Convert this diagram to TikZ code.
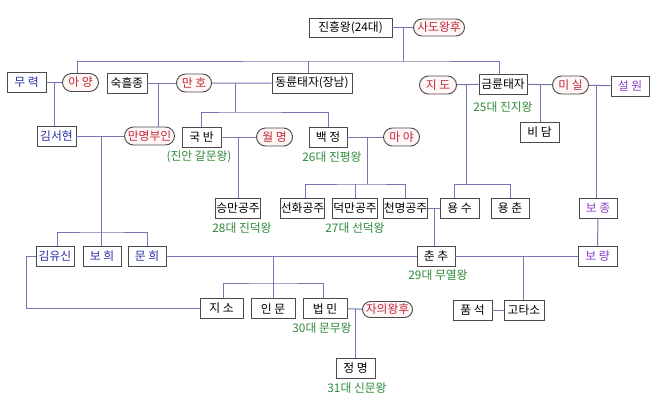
\documentclass[tikz,border=0pt]{standalone}
\usepackage{fontspec}
\setmainfont{Noto Sans CJK KR}
\usetikzlibrary{shapes.misc}
\definecolor{bdc}{HTML}{4A4A4A}
\definecolor{lnc}{HTML}{7676B2}
\definecolor{bluc}{HTML}{2B2FA8}
\definecolor{purc}{HTML}{8B3FC8}
\definecolor{redc}{HTML}{C0283C}
\definecolor{grc}{HTML}{2F8A3A}
\definecolor{pkf}{HTML}{FFF6F6}
\begin{document}
\begin{tikzpicture}[x=1pt,y=-1pt,font=\fontsize{11.8}{13}\selectfont,
  bx/.style={draw=bdc,fill=white,line width=0.9pt,minimum height=20pt,inner sep=0.5pt},
  rd/.style={rounded rectangle,draw=bdc,fill=pkf,line width=0.9pt,minimum height=18pt,inner sep=0.5pt,text=redc},
  ln/.style={draw=lnc,line width=1pt},
  gl/.style={text=grc,inner sep=0pt}]
\fill[white] (0,0) rectangle (656,410);
\useasboundingbox (0,0) rectangle (656,410);
% row 1
\node[bx,minimum width=83pt,minimum height=19pt] (jh) at (350.5,27.5) {진흥왕(24대)};
\node[rd,minimum width=52pt,minimum height=17pt] (sd) at (439,27.5) {사도왕후};
% row 2
\node[bx,minimum width=39pt,text=bluc] (mr) at (26.5,82.5) {무 력};
\node[rd,minimum width=37pt] (ay) at (80.5,82.5) {아 양};
\node[bx,minimum width=40pt] (sh) at (127,83) {숙흘종};
\node[rd,minimum width=36pt] (mh) at (194,83) {만 호};
\node[bx,minimum width=80pt] (dr) at (312,83) {동륜태자(장남)};
\node[rd,minimum width=38pt] (jd) at (438,85) {지 도};
\node[bx,minimum width=48pt] (gr) at (503,84) {금륜태자};
\node[rd,minimum width=37pt] (ms) at (570.5,85) {미 실};
\node[bx,minimum width=38pt,text=purc] (sw) at (630,86) {설 원};
% row 3
\node[bx,minimum width=39pt] (bd) at (539.5,132) {비 담};
\node[bx,minimum width=39pt,text=bluc] (ksh) at (56.5,136) {김서현};
\node[rd,minimum width=51pt] (mm) at (149.5,136) {만명부인};
\node[bx,minimum width=39pt] (gb) at (201.5,137) {국 반};
\node[rd,minimum width=37pt] (wm) at (274.5,137) {월 명};
\node[bx,minimum width=38pt] (bj) at (328,137) {백 정};
\node[rd,minimum width=37pt] (my) at (401.5,137) {마 야};
% row 4
\node[bx,minimum width=42pt] (sm) at (238,208) {승만공주};
\node[bx,minimum width=43pt] (sh2) at (302.5,208) {선화공주};
\node[bx,minimum width=44pt] (dm) at (355,208) {덕만공주};
\node[bx,minimum width=43pt] (cm) at (405.5,208) {천명공주};
\node[bx,minimum width=39pt] (ys) at (459.5,208) {용 수};
\node[bx,minimum width=38pt] (yc) at (510,208) {용 춘};
\node[bx,minimum width=38pt,text=purc] (bjo) at (598,208) {보 종};
% row 5
\node[bx,minimum width=38pt,text=bluc] (kys) at (55,256) {김유신};
\node[bx,minimum width=38pt,text=bluc] (bh) at (102,256) {보 희};
\node[bx,minimum width=38pt,text=bluc] (mhe) at (147,256) {문 희};
\node[bx,minimum width=38pt] (cc) at (436,256) {춘 추};
\node[bx,minimum width=39pt,text=purc] (br) at (597.5,256) {보 량};
% row 6
\node[bx,minimum width=43pt] (js) at (221.5,308.5) {지 소};
\node[bx,minimum width=44pt] (im) at (273,308.5) {인 문};
\node[bx,minimum width=44pt] (bm) at (325,308.5) {법 민};
\node[rd,minimum width=51pt,minimum height=16pt] (jw) at (387.5,309.5) {자의왕후};
\node[bx,minimum width=39pt] (ps) at (472.5,310) {품 석};
\node[bx,minimum width=40pt] (gts) at (524,310) {고타소};
\node[bx,minimum width=39pt] (jm) at (355.5,368) {정 명};
% green labels
\node[gl] at (503,107) {25대 진지왕};
\node[gl] at (199,157) {(진안 갈문왕)};
\node[gl] at (332,157) {26대 진평왕};
\node[gl] at (242,228) {28대 진덕왕};
\node[gl] at (355,228) {27대 선덕왕};
\node[gl] at (438,275) {29대 무열왕};
\node[gl] at (322,328) {30대 문무왕};
\node[gl] at (357,388) {31대 신문왕};
% connectors
\draw[ln] (jh) -- (sd);
\path (jh.east) -- (sd.west) coordinate[pos=0.55] (c1);
\draw[ln] (c1) -- ++(0,33.5) coordinate (b1);
\draw[ln] ([xshift=-3.5pt]ay.north) |- (b1) -| ([xshift=-4pt]gr.north);
\draw[ln] ([xshift=-4pt]dr.north) -- ([xshift=-4pt]dr.north |- b1);
\draw[ln] (mr) -- (ay);
\path (mr.east) -- (ay.west) coordinate[pos=0.5] (c2);
\draw[ln] (c2) -- (c2 |- ksh.north);
\draw[ln] (sh) -- (mh);
\path (sh.east) -- (mh.west) coordinate[pos=0.4] (c3);
\draw[ln] (c3) -- (c3 |- mm.north);
\draw[ln] (mh) -- (dr);
\path (mh.east) -- (dr.west) coordinate[pos=0.4] (c4);
\draw[ln] (c4) -- ++(0,29) coordinate (b4);
\draw[ln] (gb.north) |- (b4) -| (bj.north);
\draw[ln] (jd) -- (gr);
\path (jd.east) -- (gr.west) coordinate[pos=0.45] (c5);
\draw[ln] (c5) -- ++(0,100) coordinate (b5);
\draw[ln] ([xshift=-5.5pt]ys.north) |- (b5) -| (yc.north);
\draw[ln] (gr) -- (ms);
\path (gr.east) -- (ms.west) coordinate[pos=0.52] (c6);
\draw[ln] (c6) -- (c6 |- bd.north);
\draw[ln] (ms) -- (sw);
\path (ms.east) -- (sw.west) coordinate[pos=0.36] (c7);
\draw[ln] (c7) -- (c7 |- bjo.north);
\draw[ln] (bjo) -- (br);
\draw[ln] (ksh) -- (mm);
\path (ksh.east) -- (mm.west) coordinate[pos=0.52] (c8);
\draw[ln] (c8) -- (c8 |- bh.north);
\path (c8) ++(0,96) coordinate (b8);
\draw[ln] ([xshift=2pt]kys.north) |- (b8) -| (mhe.north);
\draw[ln] (gb) -- (wm);
\path (gb.east) -- (wm.west) coordinate[pos=0.49] (c9);
\draw[ln] (c9) -- (c9 |- sm.north);
\draw[ln] (bj) -- (my);
\path (bj.east) -- (my.west) coordinate[pos=0.56] (c10);
\draw[ln] (c10) -- ++(0,47) coordinate (b10);
\draw[ln] ([xshift=2.5pt]sh2.north) |- (b10) -| (cm.north);
\draw[ln] (dm.north) -- (dm.north |- b10);
\draw[ln] (cm) -- (ys);
\path (cm.east) -- (ys.west) coordinate[pos=0.54] (c11);
\draw[ln] (c11) -- (c11 |- cc.north);
\draw[ln] (mhe) -- (cc);
\path (mhe.east) -- (cc.west) coordinate[pos=0.43] (c12);
\draw[ln] (c12) -- ++(0,27) coordinate (b12);
\draw[ln] ([xshift=1.5pt]js.north) |- (b12) -| ([xshift=-2pt]bm.north);
\draw[ln] (im.north) -- (im.north |- b12);
\draw[ln] (cc) -- (br);
\path (cc.east) -- (br.west) coordinate[pos=0.56] (c13);
\draw[ln] (c13) -- (c13 |- gts.north);
\draw[ln] (kys.west) -- ++(-9,0) |- (js.west);
\draw[ln] (bm) -- (jw);
\path (bm.east) -- (jw.west) coordinate[pos=0.53] (c15);
\draw[ln] (c15) -- (c15 |- jm.north);
\draw[ln] (ps) -- (gts);
\end{tikzpicture}
\end{document}
